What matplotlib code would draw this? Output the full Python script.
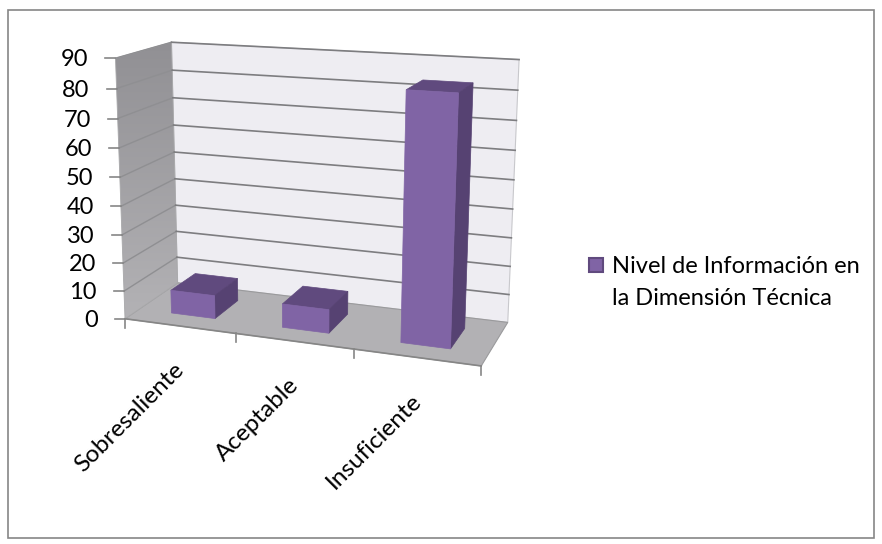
import numpy as np
import matplotlib
matplotlib.use("Agg")
import matplotlib.pyplot as plt
from matplotlib.patches import Polygon, Rectangle

categories = ["Sobresaliente", "Aceptable", "Insuficiente"]
series_lines = ["Nivel de Información en", "la Dimensión Técnica"]
values = [8.3, 8.3, 83.4]
value_ticks = [0, 10, 20, 30, 40, 50, 60, 70, 80, 90]

plt.rcParams['font.family'] = ['Lato', 'DejaVu Sans']
W, H = 882, 544
fig = plt.figure(figsize=(W / 100, H / 100), dpi=100)
ax = fig.add_axes([0, 0, 1, 1])
ax.set_xlim(0, W); ax.set_ylim(H, 0); ax.axis("off")

# Perspective camera: (category pos u, depth d, value v) -> picture position,
# calibrated from the plot box's visible corners.
VMAX = 90.0
calib = [((0, 0, 0), (126, 319)), ((0, 0, 90), (115, 58)),
         ((0, 1, 90), (172, 42)), ((0, 1, 0), (177, 283)),
         ((3, 1, 90), (519, 60)), ((3, 1, 0), (508, 322)),
         ((3, 0, 0), (482, 366)), ((1, 0, 0), (236, 333.5)),
         ((2, 0, 0), (353, 349))]
A = []; b = []
for (u, d, v), (x, y) in calib:
    A.append([u, d, v, 1, 0, 0, 0, 0, -x * u, -x * d, -x * v]); b.append(x)
    A.append([0, 0, 0, 0, u, d, v, 1, -y * u, -y * d, -y * v]); b.append(y)
m = np.linalg.lstsq(np.array(A, float), np.array(b, float), rcond=None)[0]

def proj(u, d, v):
    w = m[8] * u + m[9] * d + m[10] * v + 1
    return ((m[0] * u + m[1] * d + m[2] * v + m[3]) / w,
            (m[4] * u + m[5] * d + m[6] * v + m[7]) / w)

def face(pts, **kw):
    p = Polygon([proj(*q) for q in pts], closed=True, **kw)
    ax.add_patch(p)
    return p

# frame
ax.add_patch(Rectangle((7.5, 9.5), 866, 528, fc="white", ec="#868686", lw=1.2, zorder=0))

# back wall, floor, side wall
face([(0, 1, 0), (3, 1, 0), (3, 1, VMAX), (0, 1, VMAX)], fc="#eeedf2", ec="#c8c8cc", lw=0.8, zorder=1)
face([(0, 0, 0), (3, 0, 0), (3, 1, 0), (0, 1, 0)], fc="#b2b1b4", ec="#9a9a9c", lw=0.8, zorder=1)
side = face([(0, 0, 0), (0, 1, 0), (0, 1, VMAX), (0, 0, VMAX)], fc="none", ec="#a8a8aa", lw=0.6, zorder=2)
xs = [proj(0, 0, 90)[0], proj(0, 1, 0)[0]]
ys = [proj(0, 1, 90)[1], proj(0, 0, 0)[1]]
im = ax.imshow(np.linspace(0, 1, 128)[:, None],
               cmap=matplotlib.colors.LinearSegmentedColormap.from_list("w", ["#919094", "#b3b2b5"]),
               extent=[xs[0], xs[1], ys[1], ys[0]], aspect="auto", zorder=1.5)
im.set_clip_path(side)
ax.set_xlim(0, W); ax.set_ylim(H, 0)

# gridlines
for v in value_ticks[1:]:
    pts = [proj(0, 0, v), proj(0, 1, v), proj(3, 1, v)]
    ax.plot(*zip(*pts[:2]), color="#8f8f92", lw=1.0, zorder=2.5)
    ax.plot(*zip(*pts[1:]), color="#7d7d80", lw=1.2, zorder=2.5)

# axis line and ticks
ax.plot(*zip(proj(0, 0, 0), proj(3, 0, 0)), color="#868686", lw=1.2, zorder=3)
for v in value_ticks:
    x, y = proj(0, 0, v)
    ax.plot([x - 10, x], [y, y], color="#868686", lw=1.2, zorder=3)
    ax.text(x - 27, y + 1.5, str(v), ha="right", va="center", fontsize=17, color="black")
for i in range(len(categories) + 1):
    x, y = proj(i, 0, 0)
    ax.plot([x, x], [y, y + 9], color="#868686", lw=1.2, zorder=3)
for i, c in enumerate(categories):
    x, y = proj(i + 0.5, 0, 0)
    ax.text(x - 6, y + 33, c, rotation=45, rotation_mode="anchor", ha="right", va="top",
            fontsize=17.5, color="black")

# bars
u0, u1, d0, d1 = 0.30, 0.70, 0.26, 0.74
FRONT, TOP, SIDE = "#8064a5", "#604a7e", "#564272"
for i, val in enumerate(values):
    a, b_ = i + u0, i + u1
    z = 4 + i
    face([(a, d0, val), (b_, d0, val), (b_, d1, val), (a, d1, val)], fc=TOP, ec=TOP, lw=0.5, zorder=z)
    face([(b_, d0, 0), (b_, d1, 0), (b_, d1, val), (b_, d0, val)], fc=SIDE, ec=SIDE, lw=0.5, zorder=z)
    face([(a, d0, 0), (b_, d0, 0), (b_, d0, val), (a, d0, val)], fc=FRONT, ec=FRONT, lw=0.5, zorder=z)

# legend
ax.add_patch(Rectangle((589, 258), 14, 14, fc=FRONT, ec="#604a7e", lw=1.5, zorder=3))
for line, base in zip(series_lines, (273, 305)):
    ax.text(612, base, line, ha="left", va="baseline", fontsize=17, color="black")

fig.savefig("out.png", dpi=100)
